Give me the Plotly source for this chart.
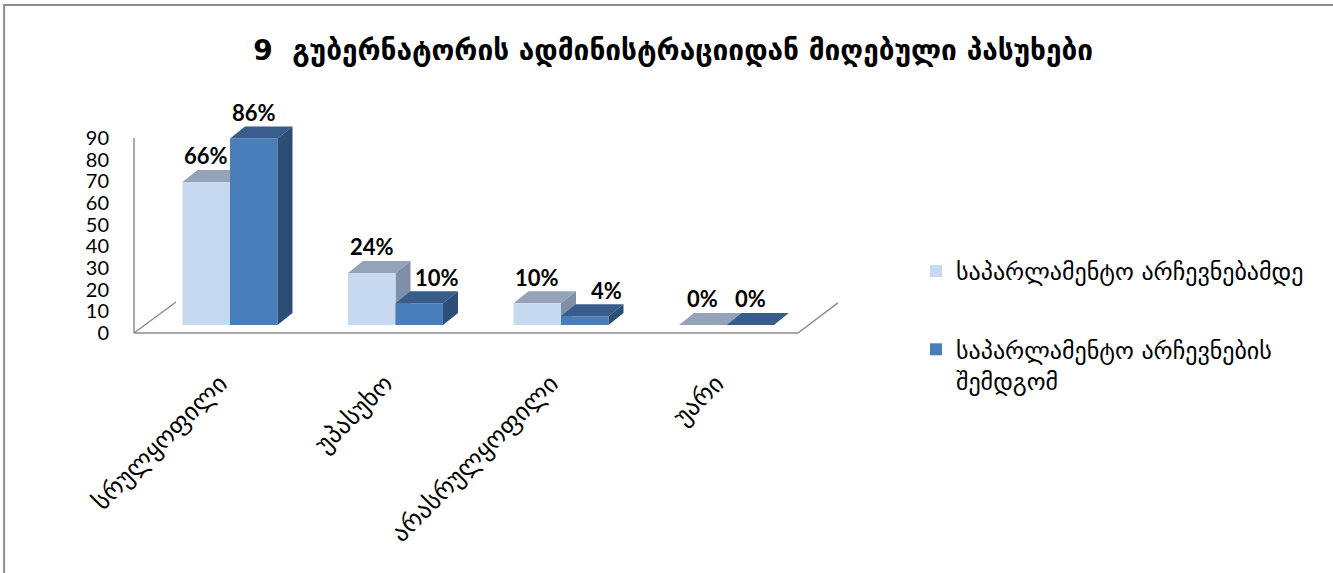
import plotly.graph_objects as go

# ---- data ----
categories = ["სრულყოფილი", "უპასუხო", "არასრულყოფილი", "უარი"]
series_names = ["საპარლამენტო არჩევნებამდე", "საპარლამენტო არჩევნების<br>შემდგომ"]
before_vals = [66, 24, 10, 0]
after_vals = [86, 10, 4, 0]
title_text = "9  გუბერნატორის ადმინისტრაციიდან მიღებული პასუხები"
y_ticks = [0, 10, 20, 30, 40, 50, 60, 70, 80, 90]

# ---- style ----
front_cols = ["#C6D9F1", "#4A7EBB"]
top_cols = ["#95A3B8", "#385D8A"]
side_cols = ["#7F8FA6", "#2C4D75"]
label_xshift = [[0, 0, 0, 0], [0, 18, 22, 0]]
BW = 0.287      # bar width in category units
DX = 0.0906     # depth offset x (category units)
DY = 5.54       # depth offset y (value units)
GEO = "DejaVu Sans"
NUM = "Lato, DejaVu Sans"

xpos = list(range(len(categories)))
fig = go.Figure()
series = [before_vals, after_vals]
offsets = [-BW, 0.0]
for s, vals in enumerate(series):
    fig.add_trace(go.Bar(
        x=xpos, y=vals, width=BW, offset=offsets[s], yaxis="y2",
        marker=dict(color=front_cols[s], line=dict(width=0)),
        name=series_names[s], legendgroup=f"g{s}", hoverinfo="skip",
    ))

shapes = []
annotations = []
for s, vals in enumerate(series):
    layer = "below" if s == 0 else "above"
    for i, v in enumerate(vals):
        x0 = xpos[i] + offsets[s]
        x1 = x0 + BW
        # top face
        shapes.append(dict(type="path", xref="x", yref="y2", layer=layer,
                           path=f"M{x0},{v} L{x1},{v} L{x1+DX},{v+DY} L{x0+DX},{v+DY} Z",
                           fillcolor=top_cols[s], line=dict(width=0)))
        # side face
        if v > 0:
            shapes.append(dict(type="path", xref="x", yref="y2", layer=layer,
                               path=f"M{x1},0 L{x1},{v} L{x1+DX},{v+DY} L{x1+DX},{DY} Z",
                               fillcolor=side_cols[s], line=dict(width=0)))
        annotations.append(dict(x=(x0 + x1) / 2, y=v, xref="x", yref="y2",
                                text=f"{v}%", showarrow=False, yanchor="middle",
                                yshift=26, xshift=label_xshift[s][i],
                                font=dict(family=NUM, size=22, color="#000000", weight="bold")))

grey = "#8C8C8C"
# floor & wall lines (paper coords)
shapes += [
    dict(type="line", xref="paper", yref="paper", x0=0.0, y0=0.0, x1=0.9405, y1=0.0,
         line=dict(color=grey, width=1.5)),
    dict(type="line", xref="paper", yref="paper", x0=0.0, y0=0.0, x1=0.0595, y1=0.133,
         line=dict(color=grey, width=1.5)),
    dict(type="line", xref="paper", yref="paper", x0=0.9405, y0=0.0, x1=0.997, y1=0.129,
         line=dict(color=grey, width=1.5)),
    dict(type="line", xref="paper", yref="y", x0=0.0, y0=0, x1=0.0, y1=90,
         line=dict(color=grey, width=1.5)),
    # chart border
    dict(type="rect", xref="paper", yref="paper", x0=-0.184, y0=-1.2, x1=1.75, y1=1.408,
         line=dict(color=grey, width=2), fillcolor="rgba(0,0,0,0)"),
]

fig.update_layout(
    width=1333, height=573,
    margin=dict(l=134, r=493, t=100, b=240),
    paper_bgcolor="white", plot_bgcolor="rgba(0,0,0,0)",
    barmode="overlay",
    title=dict(text=title_text, x=0.505, xref="container", xanchor="center",
               y=1 - 50 / 573, yref="container", yanchor="middle",
               font=dict(family=GEO, size=28, color="#000000", weight="bold")),
    xaxis=dict(range=[-0.58, 3.686], tickvals=xpos, ticktext=categories,
               tickangle=-45, showline=False, showgrid=False, zeroline=False,
               ticks="", ticklabelstandoff=30, ticklabelshift=-10,
               tickfont=dict(family=GEO, size=25, color="#000000")),
    yaxis=dict(range=[0, 107.5], tickvals=y_ticks, showgrid=False, zeroline=False,
               showline=False, ticks="", ticklabelstandoff=24,
               tickfont=dict(family=NUM, size=20, color="#000000")),
    yaxis2=dict(range=[-3.7, 103.8], overlaying="y", visible=False),
    legend=dict(x=916 / 1333, xref="container", xanchor="left",
                y=1 - 249 / 573, yref="container", yanchor="top",
                font=dict(family=GEO, size=24, color="#000000"),
                tracegroupgap=44, valign="top", traceorder="grouped",
                bgcolor="rgba(0,0,0,0)"),
    shapes=shapes, annotations=annotations,
    showlegend=True,
)

fig.write_html("out.html")
